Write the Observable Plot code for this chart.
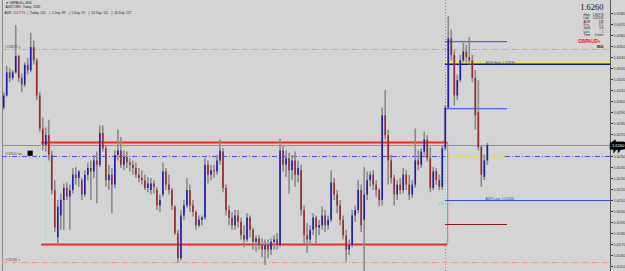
<!DOCTYPE html>
<html><head><meta charset="utf-8">
<script src="https://cdn.jsdelivr.net/npm/d3@7"></script>
<script src="https://cdn.jsdelivr.net/npm/@observablehq/plot@0.6"></script>
<style>html,body{margin:0;padding:0;background:#d4d4d4;overflow:hidden}</style>
</head><body><div id="chart"></div>
<script>
// GBPAUD M30 candles
const open = [
1.6294,1.6305,1.6326,1.6321,1.6326,1.6341,1.6321,1.6315,1.6333,1.6328,
1.6349,1.6337,1.6305,1.6275,1.6260,1.6269,1.6251,1.6219,1.6176,1.6196,
1.6210,1.6221,1.6213,1.6219,1.6233,1.6230,1.6228,1.6215,1.6233,1.6239,
1.6236,1.6246,1.6242,1.6271,1.6257,1.6228,1.6233,1.6224,1.6251,1.6255,
1.6242,1.6249,1.6244,1.6242,1.6239,1.6233,1.6230,1.6228,1.6221,1.6219,
1.6225,1.6219,1.6205,1.6215,1.6236,1.6224,1.6219,1.6204,1.6180,1.6157,
1.6196,1.6205,1.6219,1.6205,1.6199,1.6187,1.6192,1.6194,1.6242,1.6233,
1.6237,1.6236,1.6246,1.6254,1.6221,1.6201,1.6194,1.6187,1.6196,1.6190,
1.6178,1.6174,1.6194,1.6183,1.6172,1.6175,1.6169,1.6165,1.6169,1.6165,
1.6172,1.6174,1.6169,1.6255,1.6242,1.6248,1.6237,1.6246,1.6233,1.6237,
1.6201,1.6178,1.6174,1.6183,1.6194,1.6185,1.6187,1.6196,1.6187,1.6192,
1.6226,1.6215,1.6205,1.6192,1.6178,1.6165,1.6169,1.6196,1.6201,1.6219,
1.6192,1.6215,1.6228,1.6233,1.6224,1.6219,1.6210,1.6287,1.6269,1.6246,
1.6230,1.6215,1.6224,1.6219,1.6233,1.6224,1.6215,1.6224,1.6246,1.6242,
1.6254,1.6265,1.6248,1.6221,1.6236,1.6228,1.6222,1.6257,1.6294,1.6357,
1.6342,1.6305,1.6319,1.6337,1.6345,1.6340,1.6337,1.6321,1.6290,1.6258,
1.6231,1.6246];
const high = [
1.6308,1.6332,1.6330,1.6328,1.6369,1.6342,1.6325,1.6335,1.6339,1.6362,
1.6355,1.6339,1.6308,1.6285,1.6276,1.6283,1.6255,1.6228,1.6210,1.6216,
1.6225,1.6226,1.6224,1.6239,1.6240,1.6237,1.6230,1.6237,1.6244,1.6246,
1.6251,1.6254,1.6278,1.6278,1.6260,1.6242,1.6239,1.6255,1.6274,1.6267,
1.6255,1.6254,1.6248,1.6246,1.6244,1.6239,1.6237,1.6233,1.6231,1.6230,
1.6228,1.6222,1.6215,1.6244,1.6239,1.6233,1.6221,1.6205,1.6183,1.6201,
1.6210,1.6230,1.6224,1.6210,1.6201,1.6196,1.6196,1.6248,1.6246,1.6242,
1.6242,1.6251,1.6265,1.6257,1.6224,1.6205,1.6199,1.6201,1.6201,1.6194,
1.6187,1.6198,1.6196,1.6185,1.6178,1.6178,1.6175,1.6174,1.6174,1.6175,
1.6178,1.6180,1.6266,1.6260,1.6255,1.6253,1.6251,1.6254,1.6246,1.6242,
1.6205,1.6189,1.6187,1.6198,1.6196,1.6192,1.6204,1.6201,1.6196,1.6237,
1.6230,1.6219,1.6210,1.6196,1.6183,1.6174,1.6201,1.6205,1.6228,1.6224,
1.6240,1.6236,1.6236,1.6237,1.6228,1.6221,1.6294,1.6310,1.6274,1.6251,
1.6233,1.6228,1.6230,1.6239,1.6237,1.6233,1.6228,1.6275,1.6255,1.6257,
1.6272,1.6269,1.6258,1.6240,1.6239,1.6233,1.6260,1.6296,1.6377,1.6365,
1.6346,1.6324,1.6342,1.6353,1.6351,1.6358,1.6342,1.6328,1.6319,1.6260,
1.6251,1.6262];
const low = [
1.6292,1.6304,1.6317,1.6319,1.6325,1.6317,1.6308,1.6313,1.6324,1.6326,
1.6333,1.6301,1.6272,1.6255,1.6254,1.6246,1.6215,1.6181,1.6169,1.6183,
1.6183,1.6210,1.6183,1.6216,1.6224,1.6222,1.6210,1.6213,1.6228,1.6210,
1.6230,1.6207,1.6240,1.6254,1.6222,1.6219,1.6198,1.6221,1.6246,1.6239,
1.6237,1.6239,1.6236,1.6233,1.6230,1.6226,1.6224,1.6219,1.6217,1.6215,
1.6216,1.6201,1.6199,1.6213,1.6219,1.6215,1.6201,1.6178,1.6153,1.6155,
1.6192,1.6203,1.6199,1.6195,1.6183,1.6185,1.6187,1.6192,1.6225,1.6228,
1.6230,1.6233,1.6242,1.6217,1.6196,1.6187,1.6183,1.6183,1.6185,1.6174,
1.6167,1.6172,1.6176,1.6165,1.6163,1.6165,1.6158,1.6151,1.6157,1.6160,
1.6165,1.6165,1.6167,1.6236,1.6231,1.6216,1.6228,1.6222,1.6226,1.6196,
1.6171,1.6162,1.6169,1.6178,1.6171,1.6178,1.6183,1.6181,1.6183,1.6190,
1.6210,1.6198,1.6187,1.6174,1.6154,1.6160,1.6167,1.6190,1.6198,1.6181,
1.6142,1.6210,1.6222,1.6219,1.6213,1.6204,1.6205,1.6265,1.6224,1.6225,
1.6205,1.6210,1.6215,1.6216,1.6219,1.6210,1.6212,1.6221,1.6237,1.6239,
1.6251,1.6245,1.6217,1.6219,1.6224,1.6219,1.6219,1.6255,1.6292,1.6337,
1.6296,1.6301,1.6317,1.6335,1.6335,1.6333,1.6317,1.6274,1.6255,1.6222,
1.6228,1.6242];
const close = [
1.6305,1.6326,1.6321,1.6326,1.6341,1.6321,1.6315,1.6333,1.6328,1.6349,
1.6337,1.6305,1.6275,1.6260,1.6269,1.6251,1.6219,1.6185,1.6204,1.6210,
1.6221,1.6213,1.6219,1.6233,1.6230,1.6236,1.6215,1.6233,1.6239,1.6236,
1.6246,1.6242,1.6271,1.6257,1.6228,1.6233,1.6224,1.6251,1.6255,1.6242,
1.6249,1.6244,1.6242,1.6239,1.6233,1.6230,1.6228,1.6221,1.6225,1.6225,
1.6222,1.6205,1.6210,1.6236,1.6224,1.6219,1.6205,1.6180,1.6157,1.6196,
1.6205,1.6219,1.6205,1.6199,1.6187,1.6192,1.6194,1.6242,1.6233,1.6237,
1.6236,1.6246,1.6255,1.6221,1.6201,1.6194,1.6187,1.6196,1.6190,1.6178,
1.6174,1.6194,1.6183,1.6172,1.6175,1.6169,1.6165,1.6169,1.6165,1.6172,
1.6174,1.6169,1.6255,1.6242,1.6248,1.6237,1.6246,1.6233,1.6239,1.6201,
1.6178,1.6174,1.6183,1.6194,1.6185,1.6187,1.6196,1.6187,1.6192,1.6226,
1.6215,1.6205,1.6192,1.6178,1.6165,1.6169,1.6196,1.6201,1.6219,1.6187,
1.6215,1.6228,1.6233,1.6224,1.6219,1.6210,1.6287,1.6269,1.6246,1.6230,
1.6215,1.6224,1.6219,1.6233,1.6224,1.6215,1.6224,1.6246,1.6242,1.6254,
1.6265,1.6248,1.6221,1.6236,1.6228,1.6222,1.6257,1.6294,1.6357,1.6342,
1.6305,1.6319,1.6337,1.6345,1.6340,1.6337,1.6321,1.6287,1.6258,1.6233,
1.6246,1.6260];

const yTicks = [1.6150,1.6160,1.6170,1.6180,1.6190,1.6200,1.6210,1.6220,1.6230,1.6240,
  1.6250,1.6270,1.6280,1.6290,1.6300,1.6310,1.6320,1.6330,1.6340,1.6350,1.6360,1.6370,1.6380];
const currentPrice = 1.6260;

// horizontal objects
const salmonLevels = [1.63473, 1.61536];
const salmonLabels = ["1.63473  y", "1.61536  z"];
const bluePivot = 1.62500;
const boxTop = 1.62627, boxBottom = 1.61700;
const boxStart = 12.6, boxEnd = 147.8;
const dayStart = 147.1, shortEnd = 167.7, fullEnd = 202;
const dayHigh = 1.63545, midHigh = 1.62936, dayLowLine = 1.61882;
const adrHigh = 1.63338, adrLow = 1.62100;
const infoLabels = ["High:", "Low:", "ADR:", "Rng:", "Sprd:", "Lots:", "Time:"];
const infoValues = ["1.63776", "1.62203", "138", "155", "5.9", "1", "4 mins"];

const candles = open.map((o, i) => ({i, open: o, high: high[i], low: low[i], close: close[i]}));

const bull = "#1c1cb4", bear = "#9a2a2a";
const font = "Liberation Sans, Arial, sans-serif";

const infoMarks = infoLabels.flatMap((lab, i) => {
  const c = i === 3 ? "#e01010" : "#222";
  return [
    Plot.text([lab], {frameAnchor: "top-right", dx: -27, dy: 13.5 + i * 3.3, fontSize: 3, fill: c, textAnchor: "start", lineAnchor: "top"}),
    Plot.text([infoValues[i]], {frameAnchor: "top-right", dx: -7, dy: 13.5 + i * 3.3, fontSize: 3, fill: c, textAnchor: "end", lineAnchor: "top"})
  ];
});

const chart = Plot.plot({
  width: 625, height: 271,
  marginLeft: 2, marginRight: 15, marginTop: 0, marginBottom: 0,
  style: {background: "#d4d4d4", fontFamily: font, overflow: "visible"},
  x: {domain: [-0.4, 202], axis: null},
  y: {domain: [1.614545, 1.639182], axis: null},
  marks: [
    Plot.ruleX([-0.4], {stroke: "#8c8c8c", strokeWidth: 1}),
    Plot.ruleY(salmonLevels, {stroke: "#e89a7a", strokeWidth: 1, strokeDasharray: "5,2,1,2"}),
    Plot.ruleY([bluePivot], {x1: -0.4, x2: boxEnd, stroke: "#4848f0", strokeDasharray: "5,2,1,2"}),
    Plot.ruleY([bluePivot], {x1: boxEnd, x2: 167, stroke: "#e6dc20", strokeDasharray: "4,2,1,2"}),
    Plot.ruleY([bluePivot], {x1: 167, x2: fullEnd, stroke: "#4848f0", strokeDasharray: "5,2,1,2"}),
    Plot.ruleY([currentPrice], {stroke: "#909090", strokeWidth: 1}),
    Plot.ruleX([dayStart], {stroke: "#8c8c8c", strokeDasharray: "1,2"}),
    Plot.rect([0], {x1: boxStart + 0.3, x2: boxEnd - 0.4, y1: boxBottom + 0.0001, y2: boxTop - 0.0001, stroke: "#b6f2f2", fill: "none"}),
    Plot.ruleY([boxTop, boxBottom], {x1: boxStart, x2: boxEnd, stroke: "#ff2020", strokeWidth: 2}),
    Plot.ruleX([boxEnd], {y1: boxBottom, y2: boxTop, stroke: "#ff5a5a", strokeWidth: 1}),
    Plot.ruleY([dayHigh, midHigh], {x1: dayStart, x2: shortEnd, stroke: "#4a66e8", strokeWidth: 1.2}),
    Plot.ruleY([dayLowLine], {x1: dayStart, x2: shortEnd, stroke: "#8b1e1e", strokeWidth: 1.2}),
    Plot.ruleY([adrHigh + 0.00017], {x1: dayStart, x2: fullEnd, stroke: "#f2ee3a", strokeWidth: 1}),
    Plot.ruleY([adrHigh], {x1: dayStart, x2: fullEnd, stroke: "#141490", strokeWidth: 1.5}),
    Plot.ruleY([adrLow], {x1: dayStart, x2: fullEnd, stroke: "#3050e8", strokeWidth: 1.2}),
    Plot.ruleX(candles, {x: "i", y1: "low", y2: "high", stroke: "#8a8a8a", strokeWidth: 1.6}),
    Plot.ruleX(candles, {x: "i", y1: "open", y2: "close", stroke: d => d.close >= d.open ? bull : bear, strokeWidth: 1.6}),
    Plot.ruleX([fullEnd], {stroke: "#555", strokeWidth: 1}),
    Plot.axisY(yTicks, {anchor: "right", tickSize: 2, tickPadding: 1, fontSize: 4, tickFormat: d3.format(".4f"), color: "#333"}),
    Plot.text([currentPrice], {y: d => d, frameAnchor: "right", dx: 7.5, text: d => d.toFixed(4), fontSize: 4, fill: "#fff", stroke: "#000", strokeWidth: 5, strokeLinejoin: "miter", textAnchor: "middle"}),
    Plot.text(salmonLevels, {x: 0.4, y: d => d, text: (d, i) => "\u2022" + salmonLabels[i], dy: -2.5, fontSize: 3, fill: "#444", textAnchor: "start"}),
    Plot.text([bluePivot], {x: 0.4, y: d => d, text: ["\u2022" + "1.62500  bo"], dy: -2.5, fontSize: 3, fill: "#444", textAnchor: "start"}),
    Plot.dot([bluePivot], {x: 8.8, y: d => d + 0.0003, symbol: "square", r: 3.3, fill: "#000", stroke: "#fff", strokeWidth: 0.5}),
    Plot.text([adrHigh], {x: 160.4, y: d => d, text: ["ADR High: 1.63338"], dy: -1.5, fontSize: 3.4, fill: "#2a3ad0", textAnchor: "start"}),
    Plot.text([adrLow], {x: 160.4, y: d => d, text: ["ADR Low: 1.62100"], dy: -2, fontSize: 3.4, fill: "#2a3ad0", textAnchor: "start"}),
    Plot.text([adrLow], {x: 144.4, y: d => d, text: ["ADR Start"], dy: 4, fontSize: 3, fill: "#7cc8c0", textAnchor: "start"}),
    Plot.text([1.62646], {x: 146.6, y: d => d, text: ["x"], fontSize: 4, fill: "#e02020"}),
    Plot.text(["\u25BC GBPAUD+,M30"], {frameAnchor: "top-left", dx: 3, dy: 1, fontSize: 3.2, fill: "#222", textAnchor: "start", lineAnchor: "top"}),
    Plot.text(["ADR 138/5  Today: 1382"], {frameAnchor: "top-left", dx: 3, dy: 5.5, fontSize: 3.2, fill: "#222", textAnchor: "start", lineAnchor: "top"}),
    Plot.text(["ADR:"], {frameAnchor: "top-left", dx: 2, dy: 11.5, fontSize: 3.2, fill: "#222", textAnchor: "start", lineAnchor: "top"}),
    Plot.text(["134 PTS"], {frameAnchor: "top-left", dx: 10.5, dy: 11.5, fontSize: 3.2, fill: "#e01010", textAnchor: "start", lineAnchor: "top"}),
    Plot.text(["|  Today: 105    |  1 Day: 89    |  5 Day: 97    |  10 Day: 111    |  20 Day: 127"], {frameAnchor: "top-left", dx: 25, dy: 11.5, fontSize: 3.2, fill: "#222", textAnchor: "start", lineAnchor: "top"}),
    Plot.text([currentPrice.toFixed(4)], {frameAnchor: "top-right", dx: -7, dy: 3, fontSize: 8.5, fontFamily: "Liberation Serif, serif", fill: "#111", textAnchor: "end", lineAnchor: "top"}),
    ...infoMarks,
    Plot.text(["GBPAUD+"], {frameAnchor: "top-right", dx: -10, dy: 39.5, fontSize: 4.6, fontWeight: "bold", fill: "#ee1818", stroke: "#f4c0c0", strokeWidth: 0.6, textAnchor: "end", lineAnchor: "top"}),
    Plot.text(["M30"], {frameAnchor: "top-right", dx: -7, dy: 45, fontSize: 3.4, fontWeight: "bold", fill: "#111", textAnchor: "end", lineAnchor: "top"})
  ]
});
document.getElementById("chart").append(chart);
</script>
</body></html>
